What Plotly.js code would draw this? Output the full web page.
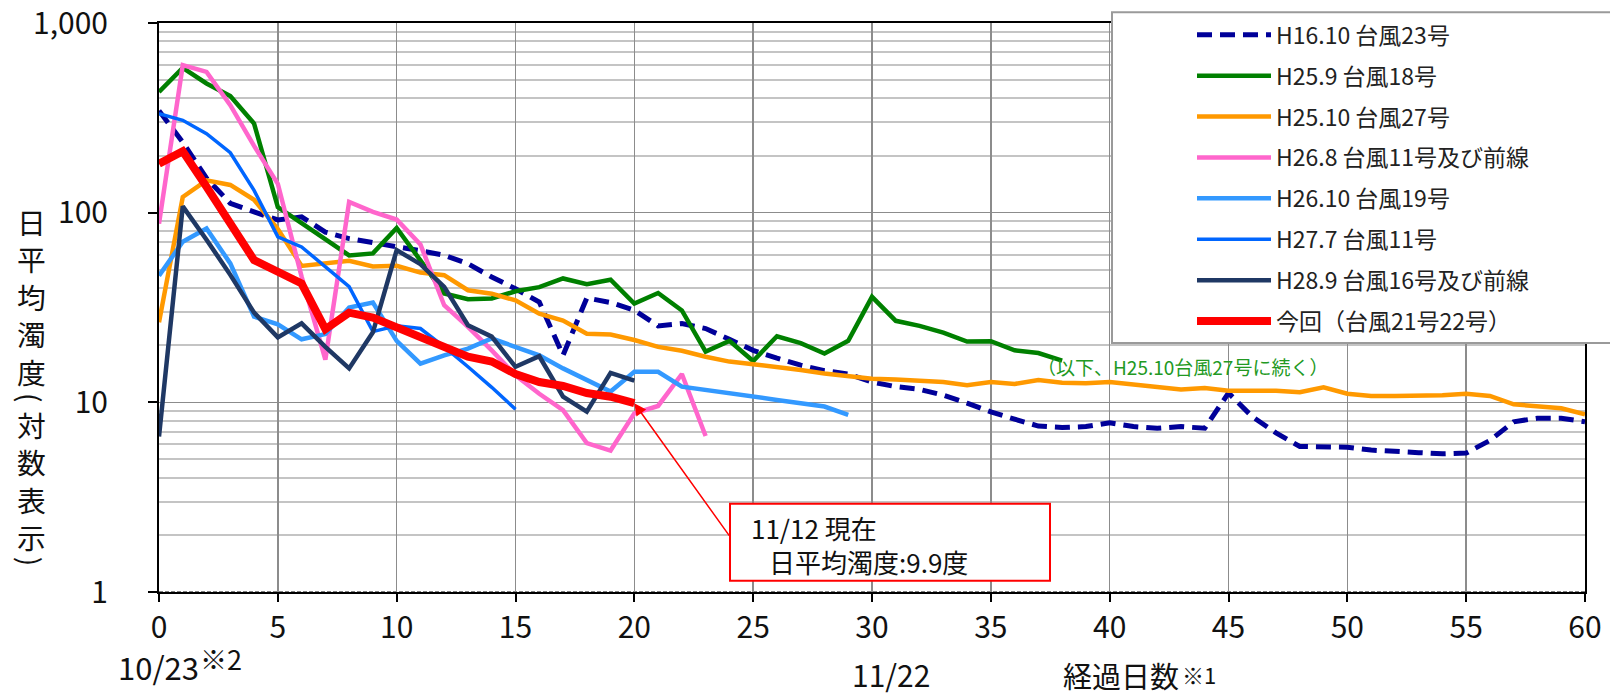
<!DOCTYPE html>
<html>
<head>
<meta charset="utf-8">
<script src="https://cdn.plot.ly/plotly-3.0.1.min.js"></script>
<style>html,body{margin:0;padding:0;background:#fff;}#chart{width:1610px;height:697px;}</style>
</head>
<body>
<div id="chart"></div>
<script>
// ---- data (daily mean turbidity, by elapsed days) ----
const seriesNames = [
  "H16.10 台風23号",
  "H25.9 台風18号",
  "H25.10 台風27号",
  "H26.8 台風11号及び前線",
  "H26.10 台風19号",
  "H27.7 台風11号",
  "H28.9 台風16号及び前線",
  "今回（台風21号22号）"
];
const h16_10 = [345,235,152,112,101,91.5,95,79,73,69.5,67,63,59.6,53.8,45.8,39.7,33.8,17.7,35.5,33.6,30.6,25.3,26,24.5,21.5,18.8,17.1,15.7,14.7,14.1,12.8,12.1,11.7,10.9,9.9,8.9,8.15,7.5,7.36,7.45,7.8,7.45,7.3,7.45,7.3,11.2,8.4,6.9,5.85,5.85,5.8,5.6,5.55,5.43,5.35,5.4,6.3,7.9,8.25,8.25,7.9];
const h25_9 = [433,580,480,412,295,107,88,72,59.5,61,83,56,37.5,35,35.3,38.5,40.5,45,42,44.3,33.2,37.7,30.5,18.5,21.1,16.5,22.3,20.5,18.1,21.1,36,26.9,25.3,23.3,20.9,21,18.8,18.2,16.6];
const h25_10 = [26.4,121,148,140,117,82,52.4,54,55.8,52,52.5,48.3,46.8,39,37.4,34.5,29.3,27,23,22.8,21.3,19.6,18.7,17.4,16.4,15.9,15.4,14.8,14.2,13.8,13.3,13.2,13,12.8,12.3,12.8,12.5,13.1,12.7,12.6,12.8,12.4,12.1,11.7,11.9,11.5,11.5,11.5,11.3,12,11.1,10.8,10.8,10.8,10.9,11.1,10.8,9.76,9.5,9.3,8.65];
const h26_8 = [87.5,600,552,369,225,142,46,16.8,114,101,92,68,32.5,25,18.8,13.9,11.1,9.1,6.1,5.57,8.75,9.57,14.1,6.65];
const h26_10 = [46.5,70.2,82.5,54,28.3,25.8,21.5,22.9,31.6,33.6,21.1,16,17.7,19.2,21.7,19.6,17.7,15.1,13.1,11.4,14.5,14.5,12.1,11.6,11.1,10.6,10.3,9.9,9.5,8.6];
const h27_7 = [333,307,261,207,131,74.6,66,52,40.7,23.6,25.3,24.5,19.6,15.4,12,9.2];
const h28_9 = [6.6,108,72,47,29.7,22,26.1,19.6,15.1,23.4,63.5,53.5,40.6,25.5,22.2,15.4,17.5,10.7,8.93,14.3,13];
const current = [181,211,137,88,56.2,48.8,42.3,24.3,29.7,28,25,22,19.6,17.4,16.4,14.1,12.8,12.2,11.2,10.7,9.9];

const yTickVals = [1,10,100,1000];
const yTickText = ["1","10","100","1,000"];
const xTickVals = [0,5,10,15,20,25,30,35,40,45,50,55,60];
const latestDay = 20, latestValue = 9.9;

// ---- styling ----
const seriesData = [h16_10,h25_9,h25_10,h26_8,h26_10,h27_7,h28_9,current];
const colors = ["#000099","#008000","#FF9900","#FF66CC","#3399FF","#0066FF","#1F3864","#FF0000"];
const widths = [5,4.5,4.5,4.5,4.5,3.5,4.5,8];
const dashes = ["15px,8px","solid","solid","solid","solid","solid","solid","solid"];

const traces = seriesData.map((arr,i)=>({
  type:"scatter", mode:"lines",
  x: arr.map((_,d)=>d), y: arr,
  name: seriesNames[i], legendgroup: "g"+i,
  line:{color:colors[i], width:widths[i], dash:dashes[i]},
  hoverinfo:"skip"
}));

const FONT = "'Noto Sans CJK JP','Noto Sans',sans-serif";
const L=159, R=1585, T=22.7, B=592.3;
const px = v => (v-L)/(R-L);
const py = v => (B-v)/(B-T);

const minorVals = [];
[1,10,100].forEach(b=>{for(let k=2;k<=9;k++) minorVals.push(b*k);});

function note(text, x, y, size, anchor, extra){
  return Object.assign({text:text,xref:"paper",yref:"paper",x:px(x),y:py(y),xanchor:anchor||"left",yanchor:"middle",showarrow:false,borderpad:0,font:{family:FONT,size:size,color:"#111"}}, extra||{});
}

const annotations = [];
// vertical y-axis title (upright characters, rotated brackets)
annotations.push(note("日<br>平<br>均<br>濁<br>度",31,296,28.8,"center"));
annotations.push(note("(",31,397,28,"center",{textangle:90}));
annotations.push(note("対<br>数<br>表<br>示",31,481,28.8,"center"));
annotations.push(note(")",31,561,28,"center",{textangle:90}));

// x-axis notes
annotations.push(note("10/23",117,667,31));
annotations.push(note("※2",199,659,27));
annotations.push(note("11/22",891,697,30,"center",{yanchor:"bottom"}));
annotations.push(note("経過日数",1062,697,29,"left",{yanchor:"bottom"}));
annotations.push(note("※1",1181,674,22));

// callout
annotations.push(note("11/12 現在",750,528,26));
annotations.push(note("日平均濁度:9.9度",768,562,26));
annotations.push({text:"",x:latestDay,y:Math.log10(latestValue),xref:"x",yref:"y",showarrow:true,arrowhead:2,arrowsize:1.6,arrowwidth:1.5,arrowcolor:"#FF0000",axref:"pixel",ayref:"pixel",ax:96,ay:134,standoff:0});
// continuation note
annotations.push(note("（以下、H25.10台風27号に続く）",1036,367,19,"left",{font:{family:FONT,size:19,color:"#229922"}}));

const shapes = [
  {type:"line",xref:"paper",yref:"y",x0:0,x1:1,y0:1,y1:1,line:{color:"#ffffff",width:2},layer:"below"},
  {type:"line",xref:"paper",yref:"y",x0:0,x1:1,y0:1,y1:1,line:{color:"#000000",width:1,dash:"4px,2px"},layer:"below"},
  {type:"rect",xref:"paper",yref:"paper",x0:px(1112),x1:px(1616),y0:py(343),y1:py(12),fillcolor:"#ffffff",line:{color:"#9a9a9a",width:2},layer:"above"},
  {type:"rect",xref:"paper",yref:"paper",x0:px(730),x1:px(1050),y0:py(581),y1:py(504),fillcolor:"#ffffff",line:{color:"#FF0000",width:2},layer:"above"}
];

const layout = {
  width:1610, height:697,
  margin:{l:L, r:1610-R, t:23, b:105},
  paper_bgcolor:"#ffffff", plot_bgcolor:"#ffffff",
  font:{family:FONT, color:"#111"},
  showlegend:true,
  legend:{
    x:px(1192), y:py(13), xanchor:"left", yanchor:"top",
    bgcolor:"rgba(0,0,0,0)", borderwidth:0,
    font:{family:FONT,size:23,color:"#222"},
    itemwidth:74, tracegroupgap:8, traceorder:"grouped",
    itemclick:false, itemdoubleclick:false
  },
  xaxis:{
    range:[0,60], tickvals:xTickVals, ticktext:xTickVals.map(String),
    showgrid:true, gridcolor:"#8c8c8c", gridwidth:1.5,
    showline:true, linecolor:"#000", linewidth:2, mirror:true,
    ticks:"outside", ticklen:8, tickwidth:2, tickcolor:"#000",
    tickfont:{family:FONT,size:30,color:"#111"},
    ticklabeloverflow:"allow",
    zeroline:false, fixedrange:true
  },
  yaxis:{
    type:"log", range:[0,3], tickvals:yTickVals, ticktext:yTickText,
    showgrid:true, gridcolor:"#8c8c8c", gridwidth:1.5,
    minor:{showgrid:true, gridcolor:"#c4c4c4", gridwidth:2, tickvals:minorVals, ticks:""},
    showline:true, linecolor:"#000", linewidth:2, mirror:true,
    ticks:"outside", ticklen:9, tickwidth:2, tickcolor:"#000",
    tickfont:{family:FONT,size:30,color:"#111"},
    ticklabelstandoff:34, ticklabeloverflow:"allow",
    zeroline:false, fixedrange:true
  },
  annotations:annotations,
  shapes:shapes
};

Plotly.newPlot("chart", traces, layout, {displayModeBar:false, staticPlot:true});
</script>
</body>
</html>
